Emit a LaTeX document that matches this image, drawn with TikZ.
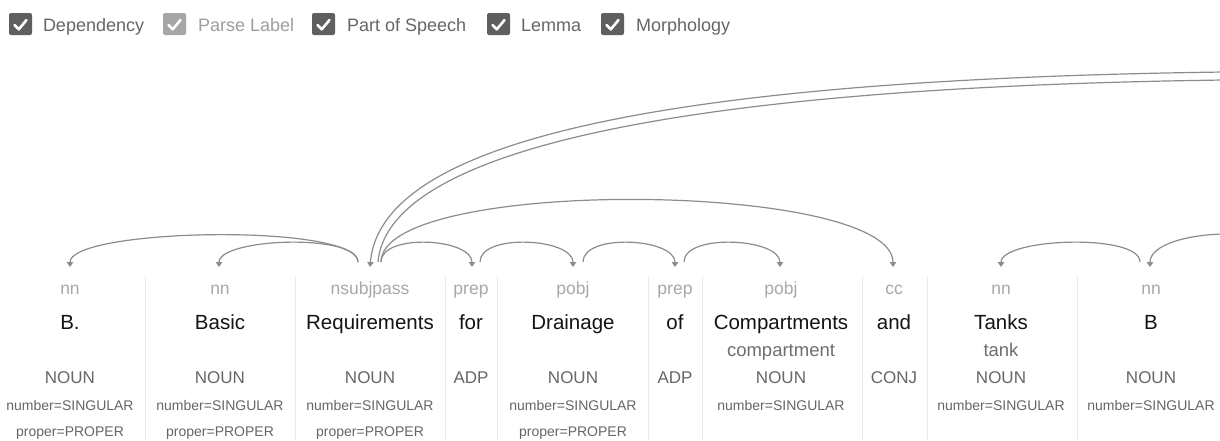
\documentclass[tikz,border=0pt]{standalone}
\usepackage{fontspec}
\setmainfont{Liberation Sans}
\usetikzlibrary{arrows.meta}
\definecolor{wordc}{HTML}{141414}
\definecolor{depc}{HTML}{A8A8A8}
\definecolor{lemc}{HTML}{6E6E6E}
\definecolor{posc}{HTML}{666666}
\definecolor{morc}{HTML}{666666}
\definecolor{topc}{HTML}{666666}
\definecolor{topl}{HTML}{9E9E9E}
\definecolor{boxc}{HTML}{5F5F5F}
\definecolor{boxl}{HTML}{A6A6A6}
\definecolor{arcc}{HTML}{8C8C8C}
\definecolor{sepc}{HTML}{EBEBEB}
\begin{document}
\begin{tikzpicture}[x=1pt,y=-1pt,
  every node/.style={inner sep=0pt,outer sep=0pt},
  toptext/.style={anchor=base west,text=topc,font=\fontsize{18}{20}\selectfont},
  cbox/.style={fill=boxc,rounded corners=2pt,minimum width=23pt,minimum height=22pt,anchor=north west},
  tick/.style={draw=white,line width=2.6pt,line cap=round,line join=round},
  deplab/.style={anchor=base,text=depc,font=\fontsize{17.5}{19}\selectfont},
  wordtx/.style={anchor=base,text=wordc,font=\fontsize{20.5}{22}\selectfont},
  lemtx/.style={anchor=base,text=lemc,font=\fontsize{18.5}{20}\selectfont},
  postx/.style={anchor=base,text=posc,font=\fontsize{17}{19}\selectfont},
  mortx/.style={anchor=base,text=morc,font=\fontsize{14}{16}\selectfont},
  sep/.style={draw=sepc,line width=1pt},
  deparc/.style={draw=arcc,line width=1.2pt,-{Triangle[width=6.5pt,length=5pt]}},
  deparcnt/.style={draw=arcc,line width=1.2pt}
]
\useasboundingbox (0,0) rectangle (1220,440);
\clip (0,0) rectangle (1220,440);
\fill[white] (0,0) rectangle (1220,440);

% ---- top checkboxes ----
\node[cbox] (cb1) at (9,13) {};
\node[cbox] (cb2) at (163,13) [fill=boxl] {};
\node[cbox] (cb3) at (312,13) {};
\node[cbox] (cb4) at (487,13) {};
\node[cbox] (cb5) at (601,13) {};
\foreach \b in {cb1,cb2,cb3,cb4,cb5}{
  \draw[tick] ([shift={(5.5,12)}]\b.north west) -- ([shift={(9.8,16.3)}]\b.north west) -- ([shift={(17.5,7)}]\b.north west);
}
\node[toptext] (tt1) at (43,31) {Dependency};
\node[toptext,text=topl] (tt2) at (198,31) {Parse Label};
\node[toptext] (tt3) at (347,31) {Part of Speech};
\node[toptext] (tt4) at (521,31) {Lemma};
\node[toptext] (tt5) at (636,31) {Morphology};

% ---- column separators ----
\foreach \x in {145,295,445,497,648,702,862,927,1077}{
  \draw[sep] (\x,276) -- (\x,440);
}

% ---- dependency labels ----
\node[deplab] (l1) at (70,294) {nn};
\node[deplab] (l2) at (220,294) {nn};
\node[deplab] (l3) at (370,294) {nsubjpass};
\node[deplab] (l4) at (471,294) {prep};
\node[deplab] (l5) at (573,294) {pobj};
\node[deplab] (l6) at (675,294) {prep};
\node[deplab] (l7) at (781,294) {pobj};
\node[deplab] (l8) at (894,294) {cc};
\node[deplab] (l9) at (1001,294) {nn};
\node[deplab] (l10) at (1151,294) {nn};

% ---- words ----
\node[wordtx] (w1) at (70,329) {B.};
\node[wordtx] (w2) at (220,329) {Basic};
\node[wordtx] (w3) at (370,329) {Requirements};
\node[wordtx] (w4) at (471,329) {for};
\node[wordtx] (w5) at (573,329) {Drainage};
\node[wordtx] (w6) at (675,329) {of};
\node[wordtx] (w7) at (781,329) {Compartments};
\node[wordtx] (w8) at (894,329) {and};
\node[wordtx] (w9) at (1001,329) {Tanks};
\node[wordtx] (w10) at (1151,329) {B};

% ---- lemmas ----
\node[lemtx] (m7) at (781,356) {compartment};
\node[lemtx] (m9) at (1001,356) {tank};

% ---- part of speech ----
\node[postx] (p1) at (70,383) {NOUN};
\node[postx] (p2) at (220,383) {NOUN};
\node[postx] (p3) at (370,383) {NOUN};
\node[postx] (p4) at (471,383) {ADP};
\node[postx] (p5) at (573,383) {NOUN};
\node[postx] (p6) at (675,383) {ADP};
\node[postx] (p7) at (781,383) {NOUN};
\node[postx] (p8) at (894,383) {CONJ};
\node[postx] (p9) at (1001,383) {NOUN};
\node[postx] (p10) at (1151,383) {NOUN};

% ---- morphology ----
\node[mortx] (n1) at (70,410) {number=SINGULAR};
\node[mortx] (n2) at (220,410) {number=SINGULAR};
\node[mortx] (n3) at (370,410) {number=SINGULAR};
\node[mortx] (n5) at (573,410) {number=SINGULAR};
\node[mortx] (n7) at (781,410) {number=SINGULAR};
\node[mortx] (n9) at (1001,410) {number=SINGULAR};
\node[mortx] (n10) at (1151,410) {number=SINGULAR};
\node[mortx] (q1) at (70,436) {proper=PROPER};
\node[mortx] (q2) at (220,436) {proper=PROPER};
\node[mortx] (q3) at (370,436) {proper=PROPER};
\node[mortx] (q5) at (573,436) {proper=PROPER};

% ---- arc anchor coordinates ----
\coordinate (t1) at (70,267);
\coordinate (t2) at (219,267);
\coordinate (t3) at (370,267);
\coordinate (t4) at (472,267);
\coordinate (t5) at (573,267);
\coordinate (t6) at (675,267);
\coordinate (t7) at (780,267);
\coordinate (t8) at (893,267);
\coordinate (t9) at (1001,267);
\coordinate (t10) at (1150,267);
\coordinate (r3L) at (358,262);
\coordinate (r3R) at (381,262);
\coordinate (r3U) at (378,262);
\coordinate (r4) at (480,262);
\coordinate (r5) at (583,262);
\coordinate (r6) at (684,262);
\coordinate (r10) at (1140,262);
\coordinate (offA) at (1224,72);
\coordinate (offB) at (1224,80);
\coordinate (offC) at (1300,262);

% ---- arcs ----
\draw[deparc] (r3L) .. controls +(0,-39) and +(0,-39) .. (t1);
\draw[deparc] (r3L) .. controls +(0,-29) and +(0,-29) .. (t2);
\draw[deparc] (r3R) .. controls +(0,-29) and +(0,-29) .. (t4);
\draw[deparc] (r4) .. controls +(0,-29) and +(0,-29) .. (t5);
\draw[deparc] (r5) .. controls +(0,-29) and +(0,-29) .. (t6);
\draw[deparc] (r6) .. controls +(0,-29) and +(0,-29) .. (t7);
\draw[deparc] (r3R) .. controls +(0,-86) and +(0,-86) .. (t8);
\draw[deparc] (r10) .. controls +(0,-29) and +(0,-29) .. (t9);
\draw[deparc] (offC) .. controls +(0,-40) and +(0,-40) .. (t10);
\draw[deparc] (offA) .. controls (620,80) and (380,150) .. (t3);
\draw[deparcnt] (r3U) .. controls (387,160) and (630,88) .. (offB);
\end{tikzpicture}
\end{document}
